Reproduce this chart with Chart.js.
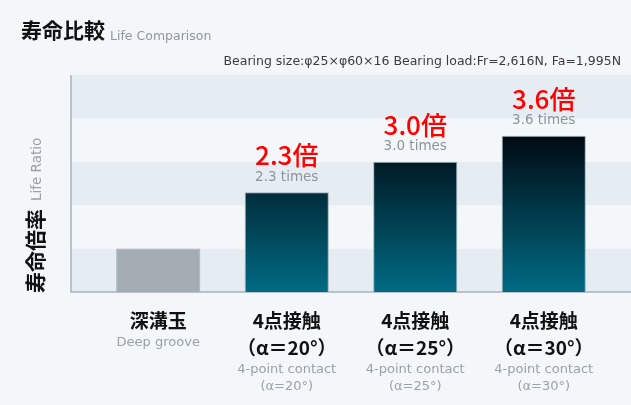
<!DOCTYPE html>
<html>
<head>
<meta charset="utf-8">
<script src="https://cdn.jsdelivr.net/npm/chart.js@4"></script>
<style>
  html, body { margin: 0; padding: 0; background: #f3f7fa; }
  #wrap { position: relative; width: 631px; height: 405px; }
</style>
</head>
<body>
<div id="wrap"><canvas id="lifeChart" width="631" height="405"></canvas></div>
<script>
const categories = ["深溝玉", "4点接触 α=20°", "4点接触 α=25°", "4点接触 α=30°"];
const mainLabels = [["深溝玉"], ["4点接触", "（α＝20°）"], ["4点接触", "（α＝25°）"], ["4点接触", "（α＝30°）"]];
const subLabels = [["Deep groove"], ["4-point contact", "(α=20°)"], ["4-point contact", "(α=25°)"], ["4-point contact", "(α=30°)"]];
const lifeRatio = [1.0, 2.3, 3.0, 3.6];
const yTicks = [0, 1, 2, 3, 4, 5];

const CJK = '"Noto Sans CJK JP", "Noto Sans", sans-serif';
const LATIN = '"DejaVu Sans", "Noto Sans", sans-serif';

// background bands, axis lines
const bandsPlugin = {
    id: "bands",
    beforeDatasetsDraw(chart) {
        const { ctx, chartArea, scales } = chart;
        const left = chartArea.left - 23, right = chartArea.right + 23;
        ctx.save();
        for (let i = 0; i < yTicks.length - 1; i++) {
            const y0 = scales.y.getPixelForValue(yTicks[i]);
            const y1 = scales.y.getPixelForValue(yTicks[i + 1]);
            ctx.fillStyle = i % 2 === 0 ? "#e5edf3" : "#f3f7fa";
            ctx.fillRect(left, y1, right - left, y0 - y1);
        }
        ctx.strokeStyle = "#a6b3bb";
        ctx.lineWidth = 1.5;
        ctx.beginPath();
        ctx.moveTo(left, chartArea.top);
        ctx.lineTo(left, chartArea.bottom);
        ctx.lineTo(right, chartArea.bottom);
        ctx.stroke();
        ctx.restore();
    }
};

// value labels, category labels, titles
const textPlugin = {
    id: "texts",
    afterDatasetsDraw(chart) {
        const { ctx, chartArea, scales } = chart;
        ctx.save();
        ctx.textAlign = "center";

        chart.getDatasetMeta(0).data.forEach((bar, i) => {
            if (i === 0) return;
            const v = lifeRatio[i].toFixed(1);
            ctx.fillStyle = "#ff0000";
            ctx.font = "500 26px " + CJK;
            ctx.textBaseline = "alphabetic";
            ctx.fillText(v + "倍", bar.x, bar.y - 27);
            ctx.fillStyle = "#8c949b";
            ctx.font = "13.5px " + LATIN;
            ctx.textBaseline = "middle";
            ctx.fillText(v + " times", bar.x, bar.y - 15);
        });

        ctx.textBaseline = "middle";
        categories.forEach((c, i) => {
            const x = scales.x.getPixelForValue(i);
            let y = 321;
            ctx.fillStyle = "#111";
            ctx.font = "bold 19px " + CJK;
            mainLabels[i].forEach((t, k) => {
                ctx.fillText(t, x, y + k * 27);
            });
            y += (mainLabels[i].length - 1) * 27 + 22;
            ctx.fillStyle = "#9aa1a8";
            ctx.font = "13px " + LATIN;
            subLabels[i].forEach((t, k) => {
                ctx.fillText(t, x, y + k * 17);
            });
        });

        // title
        ctx.textAlign = "left";
        ctx.textBaseline = "alphabetic";
        ctx.fillStyle = "#111";
        ctx.font = "bold 21px " + CJK;
        ctx.fillText("寿命比較", 21, 38);
        ctx.fillStyle = "#8f969c";
        ctx.font = "12.5px " + LATIN;
        ctx.fillText("Life Comparison", 110, 40);

        ctx.textAlign = "right";
        ctx.textBaseline = "middle";
        ctx.fillStyle = "#3c3c3c";
        ctx.font = "12.5px " + LATIN;
        ctx.fillText("Bearing size:φ25×φ60×16 Bearing load:Fr=2,616N, Fa=1,995N", 621, 62);

        // y axis title
        ctx.translate(35, chartArea.bottom + 1);
        ctx.rotate(-Math.PI / 2);
        ctx.textAlign = "left";
        ctx.fillStyle = "#111";
        ctx.font = "bold 21px " + CJK;
        ctx.fillText("寿命倍率", 0, 0);
        const w = ctx.measureText("寿命倍率").width;
        ctx.fillStyle = "#9aa0a6";
        ctx.font = "13.5px " + LATIN;
        ctx.fillText("Life Ratio", w + 8, 2);
        ctx.restore();
    }
};

function barColor(context) {
    if (context.dataIndex === 0) return "#a2acb1";
    const chart = context.chart;
    const area = chart.chartArea;
    if (!area) return "#004a60";
    const top = chart.scales.y.getPixelForValue(lifeRatio[3]);
    const g = chart.ctx.createLinearGradient(0, top, 0, area.bottom);
    g.addColorStop(0, "#000a12");
    g.addColorStop(1, "#006b84");
    return g;
}

new Chart(document.getElementById("lifeChart").getContext("2d"), {
    type: "bar",
    data: {
        labels: categories,
        datasets: [{
            data: lifeRatio,
            backgroundColor: barColor,
            borderColor: "rgba(150,168,178,0.9)",
            borderWidth: { top: 1, left: 1, right: 1, bottom: 0 },
            borderSkipped: "bottom",
            categoryPercentage: 1,
            barPercentage: 0.655
        }]
    },
    options: {
        responsive: false,
        devicePixelRatio: 1,
        animation: false,
        layout: { padding: { left: 94, right: 23, top: 75, bottom: 113 } },
        plugins: { legend: { display: false }, tooltip: { enabled: false } },
        scales: {
            x: { display: false },
            y: { display: false, min: yTicks[0], max: yTicks[yTicks.length - 1] }
        }
    },
    plugins: [bandsPlugin, textPlugin]
});
</script>
</body>
</html>
